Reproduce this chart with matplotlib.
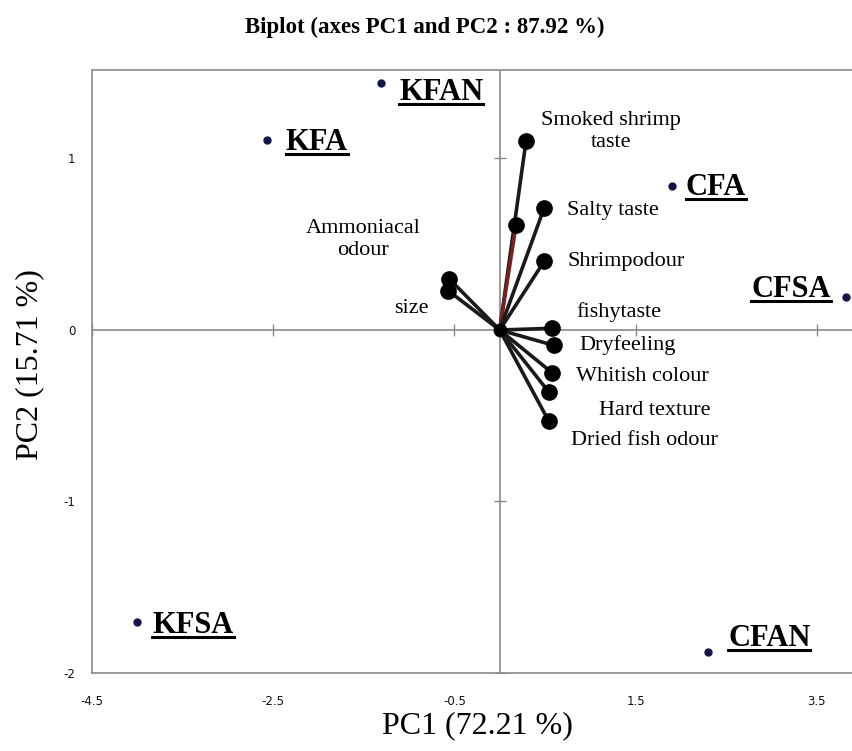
import matplotlib
matplotlib.use("Agg")
import matplotlib.pyplot as plt
from matplotlib.lines import Line2D

plt.rcParams["font.family"] = ["Liberation Serif", "DejaVu Serif"]

# sample scores (PC1, PC2)
samples = ["KFAN", "KFA", "CFA", "CFSA", "KFSA", "CFAN"]
sample_pc1 = [-1.31, -2.57, 1.90, 3.82, -4.00, 2.30]
sample_pc2 = [1.44, 1.11, 0.84, 0.19, -1.70, -1.88]

# variable loadings (PC1, PC2)
variables = ["Smoked shrimp\ntaste", "", "Salty taste", "Shrimpodour", "Ammoniacal\nodour",
             "size", "fishytaste", "Dryfeeling", "Whitish colour", "Hard texture",
             "Dried fish odour"]
var_pc1 = [0.29, 0.18, 0.49, 0.49, -0.56, -0.57, 0.58, 0.60, 0.58, 0.54, 0.54]
var_pc2 = [1.10, 0.61, 0.71, 0.40, 0.30, 0.23, 0.01, -0.09, -0.25, -0.36, -0.53]
var_line_colors = ["#1a1a1a", "#7a2020", "#1a1a1a", "#1a1a1a", "#1a1a1a", "#1a1a1a",
                   "#1a1a1a", "#1a1a1a", "#1a1a1a", "#1a1a1a", "#1a1a1a"]

xticks = [-4.5, -2.5, -0.5, 1.5, 3.5]
yticks = [-2, -1, 0, 1]

# label offsets in pixels (dx, dy, ha)
sample_offsets = {
    "KFAN": (18, -9, "left"), "KFA": (19, -3, "left"), "CFA": (14, -2, "left"),
    "CFSA": (-15, 8, "right"), "KFSA": (15, -4, "left"), "CFAN": (20, 14, "left"),
}
var_offsets = [(85, 10, "center"), (0, 0, "left"), (23, -2, "left"), (23, 0, "left"),
               (-86, 39, "center"), (-37, -18, "center"), (24, 16, "left"),
               (25, 0, "left"), (24, -4, "left"), (50, -19, "left"), (22, -20, "left")]

fig = plt.figure(figsize=(8.52, 7.51), dpi=100)
ax = fig.add_axes([92 / 852, 78 / 751, 780 / 852, 603 / 751])
ax.set_xlim(-4.5, -4.5 + 780 / 90.6)
ax.set_ylim(-2, 1.516)

for s in ax.spines.values():
    s.set_color("#8a8a8a")
    s.set_linewidth(1.2)

ax.axhline(0, color="#8a8a8a", lw=1.2, zorder=1)
ax.axvline(0, color="#8a8a8a", lw=1.2, zorder=1)
# cross ticks on the zero lines
ax.plot(xticks, [0] * len(xticks), ls="none", marker="|", ms=9, color="#8a8a8a", mew=1.0, zorder=1)
ax.plot([0] * len(yticks), yticks, ls="none", marker="_", ms=9, color="#8a8a8a", mew=1.0, zorder=1)

ax.set_xticks(xticks, [str(t) for t in xticks])
ax.set_yticks(yticks, [str(t) for t in yticks])
for lab in ax.get_xticklabels() + ax.get_yticklabels():
    lab.set_family("DejaVu Sans")
ax.tick_params(length=0, labelsize=8.5, pad=15.5, colors="#111111")
ax.tick_params(axis="y", pad=12)

# loading vectors
for x, y, c in zip(var_pc1, var_pc2, var_line_colors):
    ax.plot([0, x], [0, y], color=c, lw=2.6, zorder=3)
ax.plot(var_pc1, var_pc2, ls="none", marker="o", ms=11, color="black", zorder=4)
ax.plot([0], [0], ls="none", marker="o", ms=9, color="black", zorder=4)

for name, x, y, (dx, dy, ha) in zip(variables, var_pc1, var_pc2, var_offsets):
    if name:
        ax.annotate(name, (x, y), xytext=(dx, dy), textcoords="offset pixels",
                    ha=ha, va="center", fontsize=16, linespacing=1.25, multialignment="center")

# sample points
ax.plot(sample_pc1, sample_pc2, ls="none", marker="o", ms=5, color="#15154a", zorder=4)
sample_texts = []
for name, x, y in zip(samples, sample_pc1, sample_pc2):
    dx, dy, ha = sample_offsets[name]
    t = ax.annotate(name, (x, y), xytext=(dx, dy), textcoords="offset pixels",
                    ha=ha, va="center", fontsize=22, fontweight="bold")
    sample_texts.append(t)

fig.text(425 / 852, 1 - 27 / 751, "Biplot (axes PC1 and PC2 : 87.92 %)", ha="center", va="center",
         fontsize=16.5, fontweight="bold")
fig.text(477 / 852, 1 - 726 / 751, "PC1 (72.21 %)", ha="center", va="center", fontsize=23)
fig.text(30 / 852, 1 - 365 / 751, "PC2 (15.71 %)", ha="center", va="center", fontsize=23,
         rotation=90)

# underline sample labels
fig.canvas.draw()
renderer = fig.canvas.get_renderer()
for t in sample_texts:
    bb = t.get_window_extent(renderer)
    yline = bb.y0 + 3
    fig.add_artist(Line2D([bb.x0 / 852, bb.x1 / 852], [yline / 751, yline / 751],
                          transform=fig.transFigure, color="black", lw=2.2))

fig.savefig("out.png", dpi=100)
